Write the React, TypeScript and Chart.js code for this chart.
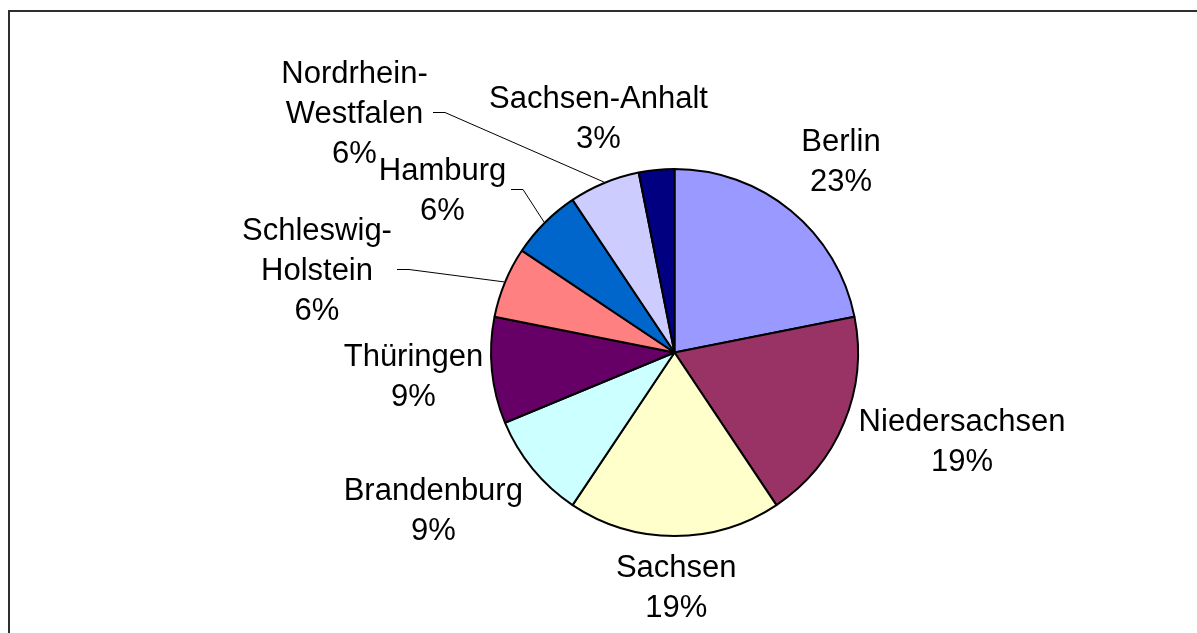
import React, { useEffect, useRef } from "react";
import { Chart, registerables } from "chart.js";

Chart.register(...registerables);

const categories = [
  "Berlin",
  "Niedersachsen",
  "Sachsen",
  "Brandenburg",
  "Thüringen",
  "Schleswig-Holstein",
  "Hamburg",
  "Nordrhein-Westfalen",
  "Sachsen-Anhalt",
];
const counts = [7, 6, 6, 3, 3, 2, 2, 2, 1];
const percentLabels = ["23%", "19%", "19%", "9%", "9%", "6%", "6%", "6%", "3%"];
const sliceColors = [
  "#9999FF",
  "#993366",
  "#FFFFCC",
  "#CCFFFF",
  "#660066",
  "#FF8080",
  "#0066CC",
  "#CCCCFF",
  "#000080",
];
// names that wrap after the hyphen
const wrappedNames = ["Schleswig-Holstein", "Nordrhein-Westfalen"];
// label block centre offsets relative to pie centre (layout only)
const labelOffsets: [number, number][] = [
  [166.5, -192.8],
  [287.5, 87.2],
  [1.7, 233.2],
  [-241.2, 156.5],
  [-261, 22.5],
  [-357.5, -83.5],
  [-232, -163.5],
  [-320, -240.2],
  [-76, -235.5],
];
const withLeader = [false, false, false, false, false, true, true, true, false];

const FONT = '31px "Liberation Sans", Arial, Helvetica, sans-serif';
const LINE_H = 40;
const CAP = 22.2;

function linesFor(i: number): string[] {
  const name = categories[i];
  const nameLines = wrappedNames.includes(name)
    ? [name.slice(0, name.indexOf("-") + 1), name.slice(name.indexOf("-") + 1)]
    : [name];
  return [...nameLines, percentLabels[i]];
}

const labelPlugin = {
  id: "excelLabels",
  afterDraw(chart: any) {
    const ctx = chart.ctx as CanvasRenderingContext2D;
    const meta = chart.getDatasetMeta(0);
    ctx.save();
    ctx.font = FONT;
    ctx.fillStyle = "#000";
    ctx.textAlign = "center";
    ctx.textBaseline = "alphabetic";
    meta.data.forEach((arc: any, i: number) => {
      const p = arc.getProps(["x", "y", "startAngle", "endAngle", "outerRadius"], true);
      const lines = linesFor(i);
      const cx = p.x + labelOffsets[i][0];
      const cy = p.y + labelOffsets[i][1];
      const n = lines.length;
      const firstBase = cy - (LINE_H * (n - 1)) / 2 + CAP / 2;
      let maxW = 0;
      lines.forEach((t, k) => {
        ctx.fillText(t, cx, firstBase + k * LINE_H);
        maxW = Math.max(maxW, ctx.measureText(t).width);
      });
      if (withLeader[i]) {
        const mid = (p.startAngle + p.endAngle) / 2;
        const r = p.outerRadius + 1;
        const ex = p.x + Math.cos(mid) * r;
        const ey = p.y + Math.sin(mid) * r;
        const right = cx + maxW / 2;
        ctx.beginPath();
        ctx.strokeStyle = "#000";
        ctx.lineWidth = 1;
        ctx.moveTo(Math.round(right + 5), Math.round(cy) + 0.5);
        ctx.lineTo(Math.round(right + 17), Math.round(cy) + 0.5);
        ctx.lineTo(ex, ey);
        ctx.stroke();
      }
    });
    ctx.restore();
  },
};

export default function App() {
  const ref = useRef<HTMLCanvasElement | null>(null);
  useEffect(() => {
    if (!ref.current) return;
    const chart = new Chart(ref.current, {
      type: "pie",
      data: {
        labels: categories,
        datasets: [
          {
            data: counts,
            backgroundColor: sliceColors,
            borderColor: "#000",
            borderWidth: 2,
          },
        ],
      },
      options: {
        responsive: false,
        animation: false,
        layout: { padding: { left: 490, right: 338, top: 168, bottom: 96 } },
        plugins: {
          legend: { display: false },
          tooltip: { enabled: false },
        },
      },
      plugins: [labelPlugin],
    });
    return () => chart.destroy();
  }, []);
  return (
    <div
      style={{
        position: "fixed",
        left: 0,
        top: 0,
        width: 1197,
        height: 633,
        background: "#fff",
        overflow: "hidden",
      }}
    >
      <div
        style={{
          position: "absolute",
          left: 8,
          top: 10,
          right: -10,
          bottom: -10,
          borderLeft: "2px solid #2e2e2e",
          borderTop: "2px solid #2e2e2e",
        }}
      />
      <canvas
        ref={ref}
        width={1197}
        height={633}
        style={{ position: "absolute", left: 0, top: 0, width: 1197, height: 633 }}
      />
    </div>
  );
}
